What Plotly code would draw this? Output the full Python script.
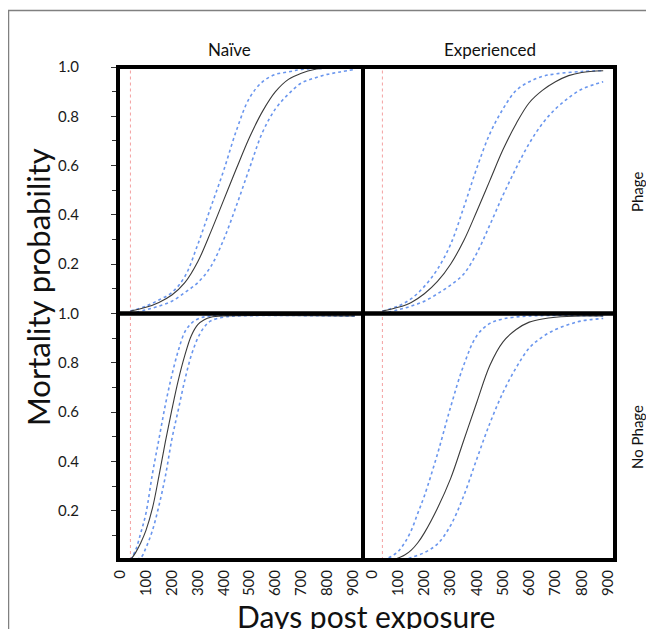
import plotly.graph_objects as go
from plotly.subplots import make_subplots

# ---------------- data ----------------
day_ticks = [0, 100, 200, 300, 400, 500, 600, 700, 800, 900]
prob_ticks = [0.2, 0.4, 0.6, 0.8, 1.0]
prob_tick_labels = ["0.2", "0.4", "0.6", "0.8", "1.0"]
prob_minor_ticks = [0.1, 0.3, 0.5, 0.7, 0.9]
col_titles = ["Naïve", "Experienced"]
row_titles = ["Phage", "No Phage"]
onset_day = 40

# Naive / Phage
tl_mid_days = [40, 100, 150, 200, 250, 300, 350, 400, 450, 500, 550, 600, 650, 700, 750, 800, 906]
tl_mid_prob = [0.01, 0.025, 0.045, 0.075, 0.125, 0.21, 0.33, 0.46, 0.59, 0.715, 0.82, 0.90, 0.95, 0.975, 0.99, 0.995, 0.997]
tl_lo_days = [40, 100, 150, 200, 250, 300, 350, 400, 450, 500, 550, 600, 650, 700, 800, 906]
tl_lo_prob = [0.01, 0.03, 0.055, 0.085, 0.15, 0.28, 0.43, 0.58, 0.745, 0.875, 0.94, 0.97, 0.98, 0.99, 0.995, 0.997]
tl_hi_days = [40, 100, 150, 200, 250, 300, 350, 400, 450, 500, 550, 600, 650, 700, 750, 800, 850, 906]
tl_hi_prob = [0.0, 0.015, 0.03, 0.05, 0.085, 0.125, 0.19, 0.30, 0.44, 0.59, 0.735, 0.83, 0.89, 0.935, 0.955, 0.97, 0.98, 0.99]

# Experienced / Phage
tr_mid_days = [40, 100, 150, 200, 250, 300, 350, 400, 450, 500, 550, 600, 650, 700, 750, 800, 882]
tr_mid_prob = [0.01, 0.025, 0.045, 0.08, 0.13, 0.20, 0.295, 0.415, 0.54, 0.665, 0.77, 0.855, 0.905, 0.94, 0.965, 0.978, 0.985]
tr_lo_days = [40, 100, 150, 200, 250, 300, 350, 400, 450, 500, 550, 600, 650, 700, 800, 882]
tr_lo_prob = [0.01, 0.03, 0.06, 0.11, 0.18, 0.28, 0.43, 0.59, 0.73, 0.83, 0.905, 0.94, 0.962, 0.972, 0.982, 0.985]
tr_hi_days = [40, 100, 150, 200, 250, 300, 350, 400, 450, 500, 550, 600, 650, 700, 750, 800, 850, 882]
tr_hi_prob = [0.0, 0.015, 0.03, 0.05, 0.08, 0.115, 0.16, 0.245, 0.36, 0.48, 0.59, 0.69, 0.77, 0.83, 0.875, 0.91, 0.93, 0.94]

# Naive / No Phage
bl_mid_days = [40, 60, 80, 100, 125, 150, 175, 200, 225, 250, 275, 300, 325, 350, 400, 906]
bl_mid_prob = [0.0, 0.03, 0.07, 0.12, 0.21, 0.34, 0.48, 0.61, 0.73, 0.83, 0.91, 0.955, 0.975, 0.985, 0.99, 0.99]
bl_lo_days = [40, 60, 80, 100, 125, 150, 175, 200, 225, 250, 275, 300, 350, 906]
bl_lo_prob = [0.0, 0.04, 0.11, 0.19, 0.35, 0.49, 0.63, 0.75, 0.85, 0.925, 0.96, 0.978, 0.99, 0.99]
bl_hi_days = [40, 80, 100, 125, 150, 175, 200, 225, 250, 275, 300, 325, 350, 400, 450, 906]
bl_hi_prob = [0.0, 0.01, 0.05, 0.12, 0.22, 0.34, 0.49, 0.61, 0.73, 0.83, 0.90, 0.945, 0.97, 0.985, 0.99, 0.99]

# Experienced / No Phage
br_mid_days = [80, 125, 150, 175, 200, 250, 300, 350, 400, 450, 500, 550, 600, 650, 700, 800, 882]
br_mid_prob = [0.0, 0.02, 0.04, 0.07, 0.11, 0.21, 0.33, 0.485, 0.64, 0.79, 0.885, 0.935, 0.965, 0.978, 0.985, 0.99, 0.99]
br_lo_days = [42, 75, 100, 125, 150, 175, 200, 250, 300, 350, 400, 450, 500, 600, 882]
br_lo_prob = [0.0, 0.015, 0.035, 0.07, 0.12, 0.19, 0.26, 0.43, 0.62, 0.79, 0.91, 0.96, 0.978, 0.99, 0.99]
br_hi_days = [118, 150, 200, 250, 300, 350, 400, 450, 500, 550, 600, 650, 700, 750, 800, 882]
br_hi_prob = [0.0, 0.01, 0.03, 0.065, 0.14, 0.26, 0.41, 0.555, 0.68, 0.78, 0.86, 0.905, 0.935, 0.955, 0.97, 0.98]

panels = [
    (1, 1, (tl_mid_days, tl_mid_prob), (tl_lo_days, tl_lo_prob), (tl_hi_days, tl_hi_prob)),
    (1, 2, (tr_mid_days, tr_mid_prob), (tr_lo_days, tr_lo_prob), (tr_hi_days, tr_hi_prob)),
    (2, 1, (bl_mid_days, bl_mid_prob), (bl_lo_days, bl_lo_prob), (bl_hi_days, bl_hi_prob)),
    (2, 2, (br_mid_days, br_mid_prob), (br_lo_days, br_lo_prob), (br_hi_days, br_hi_prob)),
]

# ---------------- figure ----------------
OFF = 8  # page body margin
W, H = 654 - OFF, 629 - OFF
ML, MR, MT, MB = 118 - OFF, 39, 67 - OFF, 69
PW, PH = W - ML - MR, H - MT - MB


def px(x):
    return (x - OFF - ML) / PW


def py(y):
    return (H - MB - (y - OFF)) / PH


fig = make_subplots(rows=2, cols=2, horizontal_spacing=0, vertical_spacing=0,
                    column_widths=[245, 252])

FONT = "Lato"
BLUE = "#6a96ee"

for r, c, mid, lo, hi in panels:
    fig.add_trace(go.Scatter(x=[onset_day, onset_day], y=[0, 1], mode="lines",
                             line=dict(color="#f4a0a0", width=1, dash="dot"),
                             showlegend=False, hoverinfo="skip"), row=r, col=c)
    for d, p in (lo, hi):
        fig.add_trace(go.Scatter(x=d, y=p, mode="lines",
                                 line=dict(color=BLUE, width=1.6, dash="3px,3px",
                                           shape="spline", smoothing=1.0),
                                 showlegend=False), row=r, col=c)
    fig.add_trace(go.Scatter(x=mid[0], y=mid[1], mode="lines",
                             line=dict(color="#3a3a3a", width=1.1,
                                       shape="spline", smoothing=1.0),
                             showlegend=False), row=r, col=c)

xranges = {1: [-8, 938], 2: [-34, 927]}
shapes = []
axis_ids = {(1, 1): ("x", "y"), (1, 2): ("x2", "y2"), (2, 1): ("x3", "y3"), (2, 2): ("x4", "y4")}
for r in (1, 2):
    for c in (1, 2):
        fig.update_xaxes(row=r, col=c, range=xranges[c], tickvals=day_ticks,
                         showticklabels=(r == 2), tickangle=-90, ticks="",
                         ticklabelstandoff=6, automargin=False,
                         tickfont=dict(family=FONT, size=15, color="#1a1a1a"),
                         showgrid=False, zeroline=False, showline=False)
        fig.update_yaxes(row=r, col=c, range=[0, 1], tickvals=prob_ticks,
                         ticktext=prob_tick_labels, automargin=False,
                         showticklabels=(c == 1), ticks="outside" if c == 1 else "",
                         ticklen=6, tickwidth=1, tickcolor="#333",
                         ticklabelstandoff=29,
                         minor=dict(tickvals=prob_minor_ticks, ticks="outside" if c == 1 else "",
                                    ticklen=5, tickcolor="#333", tickwidth=1),
                         tickfont=dict(family=FONT, size=15, color="#1a1a1a"),
                         showgrid=False, zeroline=False, showline=False)
        xa, ya = axis_ids[(r, c)]
        shapes.append(dict(type="rect", xref=xa + " domain", yref=ya + " domain",
                           x0=0, x1=1, y0=0, y1=1,
                           line=dict(color="black", width=4), fillcolor="rgba(0,0,0,0)"))


def note(text, x, y, size, angle=0, yanchor="middle"):
    return dict(text=text, x=px(x), y=py(y), xref="paper", yref="paper",
                xanchor="center", yanchor=yanchor, textangle=angle, showarrow=False,
                font=dict(family=FONT, size=size, color="#111"))


ann = [
    note("Mortality probability", 38, 287, 31, -90),
    note("Days post exposure", 366, 596, 30, 0, "top"),
    note(col_titles[0], 229, 50, 17),
    note(col_titles[1], 490, 50, 17),
    note(row_titles[0], 637, 192, 15, -90),
    note(row_titles[1], 637, 437, 15, -90),
]

shapes.append(dict(type="rect", xref="paper", yref="paper",
                   x0=px(8.5), x1=px(700), y0=py(700), y1=py(10.5),
                   line=dict(color="#808080", width=1.5), fillcolor="rgba(0,0,0,0)", layer="below"))

fig.update_layout(width=W, height=H, autosize=False,
                  margin=dict(l=ML, r=MR, t=MT, b=MB, pad=0, autoexpand=False),
                  paper_bgcolor="white", plot_bgcolor="white",
                  annotations=ann, shapes=shapes, showlegend=False)

fig.write_html("out.html")
